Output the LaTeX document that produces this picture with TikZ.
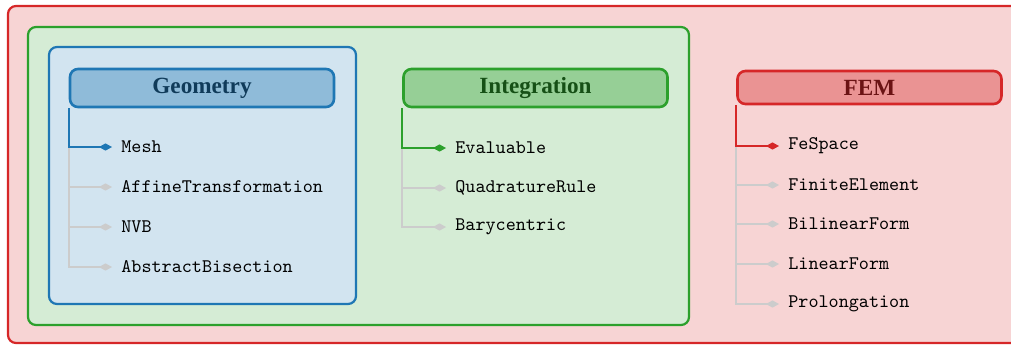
\documentclass[tikz,border=0pt]{standalone}
\usepackage{fontspec}
\newfontfamily\headfont{Liberation Serif}
\usetikzlibrary{arrows.meta}
\definecolor{tabblue}{HTML}{1F77B4}
\definecolor{tabgreen}{HTML}{2CA02C}
\definecolor{tabred}{HTML}{D62728}
\tikzset{
  group/.style={draw=#1, fill=#1!20, line width=1.1pt, rounded corners=4pt},
  head/.style={draw=#1, fill=#1!50, text=#1!50!black, line width=1.3pt,
    rounded corners=4pt, font=\headfont\bfseries\fontsize{11.6}{13}\selectfont,
    minimum width=132pt, minimum height=19pt, inner sep=0pt},
  item/.style={anchor=west, font=\fontsize{9.6}{11}\selectfont\ttfamily, inner sep=0pt},
  branch/.style={draw=#1, line width=1.1pt, -{Diamond[length=6.5pt,width=3.6pt]}},
}
\begin{document}
\begin{tikzpicture}[x=0.5pt, y=-0.5pt]
  \path[use as bounding box] (0,0) rectangle (1011,345);
  \clip (0,0) rectangle (1011,345);

  % nested package boxes
  \draw[group=tabred]   (8,6)   rectangle (1030,343);
  \draw[group=tabgreen] (28,27) rectangle (689,325);
  \draw[group=tabblue]  (49,47) rectangle (356,304);

  % Geometry
  \node[head=tabblue] (gh) at (202,88) {Geometry};
  \node[item] (g1) at (121,147) {Mesh};
  \node[item] (g2) at (121,187) {AffineTransformation};
  \node[item] (g3) at (121,227) {NVB};
  \node[item] (g4) at (121,267) {AbstractBisection};
  \foreach \n in {g4,g3,g2}
    \draw[branch=black!20] (gh.south west) |- ([xshift=-4.5pt]\n.west);
  \draw[branch=tabblue] (gh.south west) |- ([xshift=-4.5pt]g1.west);

  % Integration
  \node[head=tabgreen] (ih) at (535.5,88) {Integration};
  \node[item] (i1) at (455,148) {Evaluable};
  \node[item] (i2) at (455,188) {QuadratureRule};
  \node[item] (i3) at (455,227) {Barycentric};
  \foreach \n in {i3,i2}
    \draw[branch=black!20] (ih.south west) |- ([xshift=-4.5pt]\n.west);
  \draw[branch=tabgreen] (ih.south west) |- ([xshift=-4.5pt]i1.west);

  % FEM
  \node[head=tabred, minimum height=16.5pt] (fh) at (869.5,87.5) {FEM};
  \node[item] (f1) at (788,146) {FeSpace};
  \node[item] (f2) at (788,185) {FiniteElement};
  \node[item] (f3) at (788,224) {BilinearForm};
  \node[item] (f4) at (788,264) {LinearForm};
  \node[item] (f5) at (788,304) {Prolongation};
  \foreach \n in {f5,f4,f3,f2}
    \draw[branch=black!20] (fh.south west) |- ([xshift=-4.5pt]\n.west);
  \draw[branch=tabred] (fh.south west) |- ([xshift=-4.5pt]f1.west);
\end{tikzpicture}
\end{document}
